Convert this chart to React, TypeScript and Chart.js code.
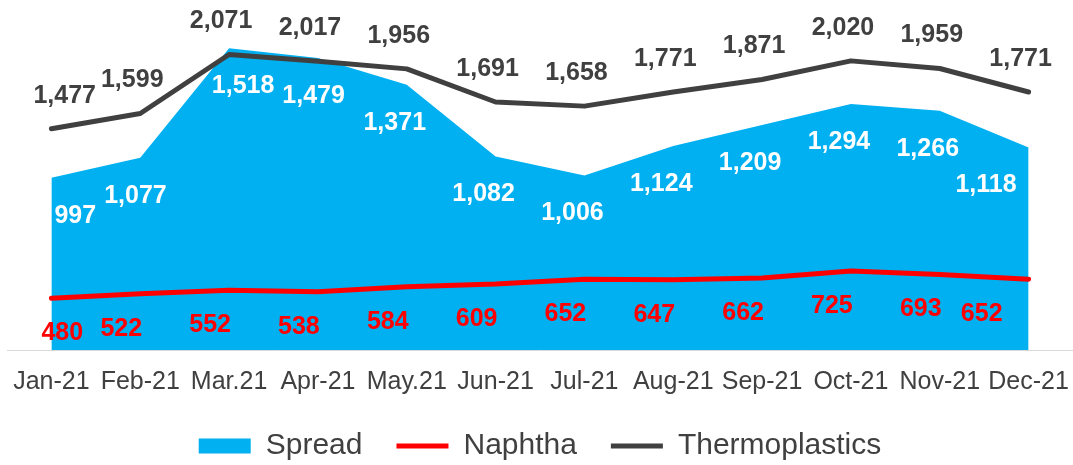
import React, { useEffect, useRef } from "react";
import { Chart, registerables } from "chart.js";

Chart.register(...registerables);

const months = ["Jan-21", "Feb-21", "Mar.21", "Apr-21", "May.21", "Jun-21", "Jul-21", "Aug-21", "Sep-21", "Oct-21", "Nov-21", "Dec-21"];
const spread = [997, 1077, 1518, 1479, 1371, 1082, 1006, 1124, 1209, 1294, 1266, 1118];
const naphtha = [480, 522, 552, 538, 584, 609, 652, 647, 662, 725, 693, 652];
const thermoplastics = [1477, 1599, 2071, 2017, 1956, 1691, 1658, 1771, 1871, 2020, 1959, 1771];

const BLUE = "#00B0F0";
const RED = "#FF0000";
const GREY = "#404040";
const FONT = '"Liberation Sans", Arial, sans-serif';

const labelStyle: Record<string, { color: string; dx: number; dy: number; minLeft: number; maxRight: number; avoid: boolean }> = {
  Spread: { color: "#FFFFFF", dx: -12, dy: 38, minLeft: 3, maxRight: -12, avoid: true },
  Naphtha: { color: RED, dx: -19, dy: 35, minLeft: -10, maxRight: -26, avoid: false },
  Thermoplastics: { color: GREY, dx: -8, dy: -33, minLeft: -18, maxRight: 30, avoid: false },
};

function hitsLine(chart: any, skip: number, x0: number, y0: number, x1: number, y1: number) {
  let hit = false;
  chart.data.datasets.forEach((ds: any, i: number) => {
    if (i === skip || !ds.borderWidth) return;
    const pts = chart.getDatasetMeta(i).data;
    for (let k = 0; k < pts.length - 1 && !hit; k++) {
      const a = pts[k];
      const b = pts[k + 1];
      const steps = Math.ceil(Math.abs(b.x - a.x));
      for (let s = 0; s <= steps; s++) {
        const t = s / steps;
        const px = a.x + (b.x - a.x) * t;
        const py = a.y + (b.y - a.y) * t;
        if (px >= x0 && px <= x1 && py >= y0 && py <= y1) {
          hit = true;
          break;
        }
      }
    }
  });
  return hit;
}

const valueLabels = {
  id: "valueLabels",
  afterDatasetsDraw(chart: any) {
    const ctx = chart.ctx;
    ctx.save();
    ctx.font = `bold 25px ${FONT}`;
    ctx.textAlign = "center";
    ctx.textBaseline = "middle";
    chart.data.datasets.forEach((ds: any, i: number) => {
      const meta = chart.getDatasetMeta(i);
      const cfg = labelStyle[ds.label];
      if (!cfg) return;
      const pts = meta.data;
      const first = pts[0].x;
      const last = pts[pts.length - 1].x;
      let prev: { right: number; y: number } | null = null;
      pts.forEach((pt: any, j: number) => {
        const text = Number(ds.data[j]).toLocaleString("en-US");
        const w = ctx.measureText(text).width;
        const y = pt.y + cfg.dy;
        let x = pt.x + cfg.dx;
        x = Math.max(x, first + cfg.minLeft + w / 2);
        x = Math.min(x, last + cfg.maxRight - w / 2);
        if (cfg.avoid) {
          let tries = 0;
          while (tries < 40 && hitsLine(chart, i, x - w / 2 - 12, y - 12, x + w / 2 + 6, y + 12)) {
            x += 2;
            tries++;
          }
          if (prev && Math.abs(prev.y - y) < 22 && x - w / 2 < prev.right + 8) {
            x = prev.right + 8 + w / 2;
          }
        }
        prev = { right: x + w / 2, y };
        ctx.fillStyle = cfg.color;
        ctx.fillText(text, x, y);
      });
    });
    ctx.restore();
  },
};

export default function App() {
  const ref = useRef<HTMLCanvasElement | null>(null);

  useEffect(() => {
    if (!ref.current) return;
    const chart = new Chart(ref.current, {
      type: "line",
      data: {
        labels: months,
        datasets: [
          {
            label: "Spread",
            data: spread,
            yAxisID: "ySpread",
            fill: "start",
            backgroundColor: BLUE,
            borderColor: BLUE,
            borderWidth: 0,
            pointRadius: 0,
            pointStyle: "rect",
            tension: 0,
            order: 3,
          },
          {
            label: "Naphtha",
            data: naphtha,
            yAxisID: "yNaph",
            fill: false,
            backgroundColor: RED,
            borderColor: RED,
            borderWidth: 5,
            borderCapStyle: "round",
            borderJoinStyle: "round",
            pointRadius: 0,
            pointStyle: "line",
            tension: 0,
            order: 2,
          },
          {
            label: "Thermoplastics",
            data: thermoplastics,
            yAxisID: "yThermo",
            fill: false,
            backgroundColor: GREY,
            borderColor: GREY,
            borderWidth: 5,
            borderCapStyle: "round",
            borderJoinStyle: "round",
            pointRadius: 0,
            pointStyle: "line",
            tension: 0,
            order: 1,
          },
        ],
      },
      options: {
        animation: false,
        responsive: true,
        maintainAspectRatio: false,
        layout: { padding: { top: 10, left: 7, right: 0, bottom: 0 } },
        plugins: {
          tooltip: { enabled: false },
          legend: {
            position: "bottom",
            labels: {
              usePointStyle: true,
              pointStyleWidth: 52,
              boxHeight: 15,
              padding: 34,
              color: GREY,
              font: { family: FONT, size: 30 },
              sort: (a: any, b: any) => a.datasetIndex - b.datasetIndex,
            },
          },
        },
        scales: {
          x: {
            type: "category",
            offset: true,
            grid: { display: false, drawTicks: false },
            border: { display: true, color: "#D9D9D9", width: 1 },
            ticks: {
              color: GREY,
              font: { family: FONT, size: 25, lineHeight: 2.56 },
              padding: 0,
              maxRotation: 0,
              autoSkip: false,
            },
            afterFit: (scale: any) => {
              scale.height = 47;
            },
          },
          ySpread: { type: "linear", display: false, min: 303, max: 1672 },
          yNaph: { type: "linear", display: false, min: 16, max: 3068 },
          yThermo: { type: "linear", display: false, min: -293, max: 2427 },
        },
      },
      plugins: [valueLabels],
    });
    return () => chart.destroy();
  }, []);

  return (
    <div style={{ position: "fixed", left: 0, top: 0, width: 1073, height: 471, background: "#FFFFFF" }}>
      <canvas ref={ref} />
    </div>
  );
}
